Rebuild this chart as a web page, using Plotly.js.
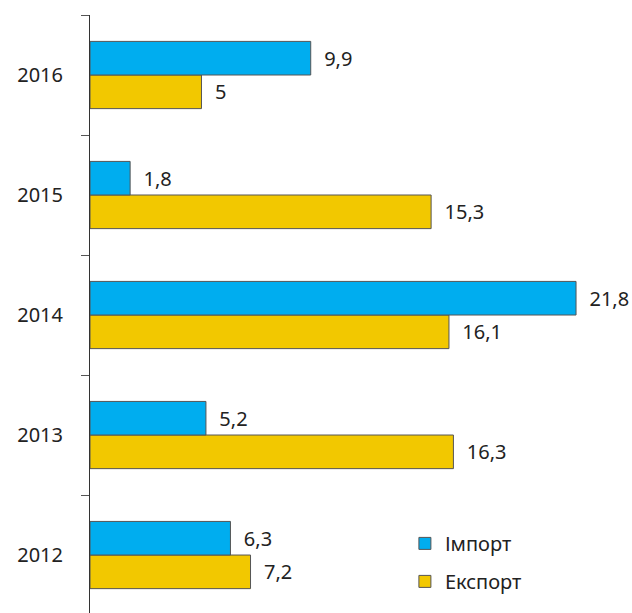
<!DOCTYPE html>
<html>
<head>
<meta charset="utf-8">
<script src="https://cdn.plot.ly/plotly-3.0.1.min.js"></script>
<style>html,body{margin:0;padding:0;background:#fff;}#chart{width:632px;height:613px;}</style>
</head>
<body>
<div id="chart"></div>
<script>
const years = ['2012', '2013', '2014', '2015', '2016'];
const importValues = [6.3, 5.2, 21.8, 1.8, 9.9];
const exportValues = [7.2, 16.3, 16.1, 15.3, 5];
const seriesNames = ['Імпорт', 'Експорт'];

const fontFam = 'Noto Sans, sans-serif';
const traces = [
  {
    type: 'bar', orientation: 'h', name: seriesNames[1],
    y: years, x: exportValues,
    marker: {color: '#F2C800', line: {color: '#555555', width: 1}},
    texttemplate: '\u00a0\u00a0%{x}', textposition: 'outside', cliponaxis: false,
    textfont: {family: fontFam, size: 20, color: '#222'},
    legendrank: 2, legendgroup: 'b'
  },
  {
    type: 'bar', orientation: 'h', name: seriesNames[0],
    y: years, x: importValues,
    marker: {color: '#00ADEF', line: {color: '#555555', width: 1}},
    texttemplate: '\u00a0\u00a0%{x}', textposition: 'outside', cliponaxis: false,
    textfont: {family: fontFam, size: 20, color: '#222'},
    legendrank: 1, legendgroup: 'a'
  }
];

const layout = {
  width: 632, height: 613,
  margin: {l: 90, r: 0, t: 15, b: 0},
  paper_bgcolor: '#fff', plot_bgcolor: '#fff',
  separators: ', ',
  barmode: 'group',
  bargap: 0.44,
  bargroupgap: 0,
  font: {family: fontFam, size: 20, color: '#222'},
  xaxis: {range: [0, 24.31], visible: false, fixedrange: true},
  yaxis: {
    type: 'category', categoryorder: 'array', categoryarray: years,
    range: [-0.483, 4.5],
    showline: true, linecolor: '#333', linewidth: 1,
    ticks: 'outside', ticklen: 8, tickcolor: '#555', tickwidth: 1,
    tickson: 'boundaries', showgrid: false, zeroline: false,
    tickfont: {family: fontFam, size: 20, color: '#222'},
    ticklabelstandoff: 22
  },
  showlegend: true,
  legend: {
    x: 0.581, y: 0.149, xanchor: 'left', yanchor: 'top',
    traceorder: 'grouped',
    font: {family: fontFam, size: 20, color: '#222'},
    tracegroupgap: 9, itemwidth: 30, bgcolor: 'rgba(0,0,0,0)'
  }
};

Plotly.newPlot('chart', traces, layout, {displayModeBar: false, staticPlot: true});
</script>
</body>
</html>
